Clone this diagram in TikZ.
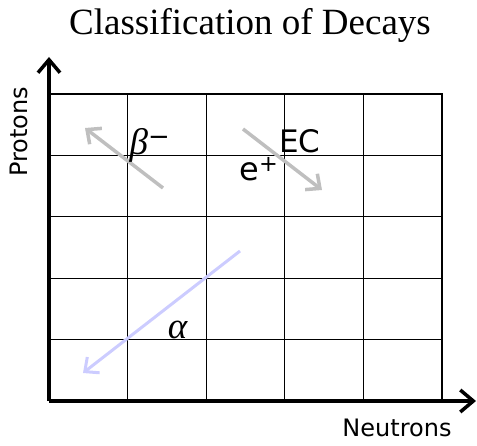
\documentclass[tikz,border=0pt]{standalone}
\usepackage{fontspec}
\setmainfont{Liberation Serif}
\setsansfont{DejaVu Sans}
\usepackage{tikz}
\usetikzlibrary{arrows.meta,positioning}
\definecolor{decaygray}{HTML}{BFBFBF}
\definecolor{decaylilac}{HTML}{CCCCFF}

\begin{document}
\begin{tikzpicture}[
    x=1pt, y=-1pt,
    cell/.style={line width=1pt, draw=black},
    frame/.style={line width=2pt, draw=black},
    axis/.style={-{Straight Barb[length=13pt,width=22pt]}, line width=3.5pt, draw=black},
    decay/.style={-{Straight Barb[length=11pt,width=20pt]}, line width=3.5pt, draw=decaygray},
    alphadecay/.style={decay, draw=decaylilac, line width=3pt},
    axislabel/.style={inner sep=0pt, font=\sffamily\fontsize{24}{24}\selectfont},
    decaylabel/.style={inner sep=0pt}
]
    \useasboundingbox (0,0) rectangle (477,446);

    % Title
    \node (title) at (250,25) [inner sep=0pt] {\fontsize{37}{37}\selectfont Classification of Decays};

    % Grid of cells
    \foreach \i in {1,...,4} {
        \draw [cell] (49+\i*78.6,94) -- (49+\i*78.6,401);
        \draw [cell] (49,94+\i*61.4) -- (442,94+\i*61.4);
    }
    \draw [frame] (49,94) -- (442,94) -- (442,401);

    % Axes
    \coordinate (origin) at (49,401);
    \coordinate (ptop) at (49,57);
    \coordinate (nend) at (476,401);
    \draw [axis] (origin) -- (ptop);
    \draw [axis] (origin) -- (nend);
    \node (protons) at (19,132) [axislabel, rotate=90] {Protons};
    \node (neutrons) at (397,428) [axislabel] {Neutrons};

    % Decay directions
    \coordinate (bminus0) at (163,188);
    \coordinate (bminus1) at (85,128);
    \coordinate (ec0) at (243,129);
    \coordinate (ec1) at (322,190);
    \coordinate (alpha0) at (240,251);
    \coordinate (alpha1) at (83,373);
    \draw [decay] (bminus0) -- (bminus1);
    \draw [decay] (ec0) -- (ec1);
    \draw [alphadecay] (alpha0) -- (alpha1);

    % Labels
    \node (bminuslabel) at (150,145) [decaylabel] {\fontsize{37}{37}\selectfont\textit{β}\sffamily\textsuperscript{−}};
    \node (eclabel) at (300,141.5) [decaylabel] {\sffamily\fontsize{31}{31}\selectfont EC};
    \node (epluslabel) at (259,169) [decaylabel] {\sffamily\fontsize{32}{32}\selectfont e\textsuperscript{+}};
    \node (alphalabel) at (178,330) [decaylabel] {\fontsize{37}{37}\selectfont\textit{α}};
\end{tikzpicture}
\end{document}
